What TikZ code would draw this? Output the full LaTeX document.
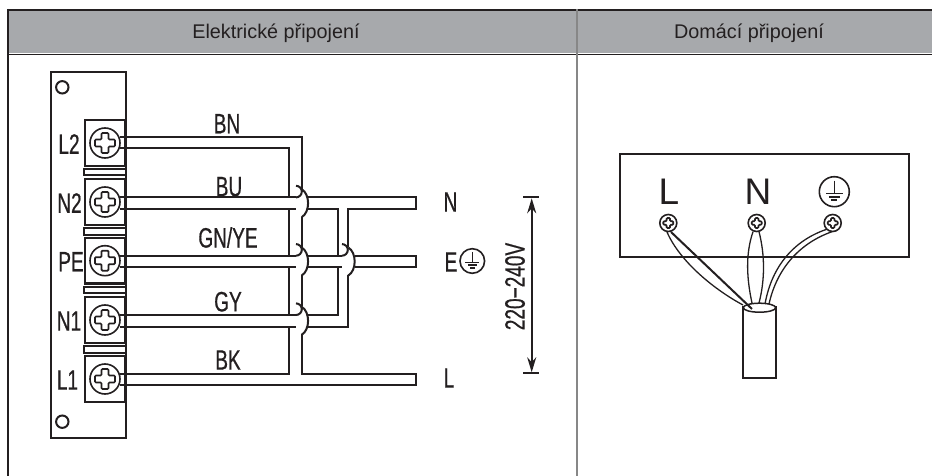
\documentclass[tikz,border=0pt]{standalone}
\usepackage{fontspec}
\usepackage{xcolor}
\usetikzlibrary{arrows.meta}
\setmainfont{Liberation Sans}
\newfontfamily\wirefont[FakeStretch=0.68,FakeBold=0.6]{Liberation Sans}
\definecolor{wireblack}{RGB}{35, 31, 32}
\definecolor{headgray}{RGB}{167, 169, 172}
\definecolor{rulegray}{RGB}{135, 135, 135}
\tikzset{
    wire/.style={line width=2pt, wireblack, line join=miter},
    thinwire/.style={line width=1.3pt, wireblack},
    headtext/.style={font=\fontsize{19.8}{22}\selectfont, text=wireblack, inner sep=0pt},
    wirelabel/.style={font=\wirefont\fontsize{28}{30}\selectfont, text=wireblack, inner sep=0pt},
    panellabel/.style={font=\fontsize{37}{40}\selectfont, text=wireblack, inner sep=0pt},
    screwhead/.style={draw=wireblack, circle, line width=1.6pt, inner sep=0pt},
    screwcross/.pic={
        \draw[line width=1.7pt, wireblack, rounded corners=1pt] (-10,-3.5) -- (-3.5,-3.5) -- (-3.5,-10) -- (3.5,-10) -- (3.5,-3.5) -- (10,-3.5) -- (10,3.5) -- (3.5,3.5) -- (3.5,10) -- (-3.5,10) -- (-3.5,3.5) -- (-10,3.5) -- cycle;
    },
    earthmark/.pic={
        \draw[line width=1.6pt, wireblack] (0,0) circle (15);
        \draw[line width=1.5pt, wireblack] (0,-11) -- (0,1.7);
        \draw[line width=1.7pt, wireblack] (-8.3,1.7) -- (8.3,1.7);
        \draw[line width=1.7pt, wireblack] (-5.5,5) -- (5.5,5);
        \draw[line width=1.7pt, wireblack] (-3,8.3) -- (3,8.3);
    }
}
\newcommand{\wirebump}[2]{\draw[wire] (#1,#2-14) .. controls (#1+8.5,#2-9) and (#1+8.5,#2+9) .. (#1,#2+14);}
\newcommand{\wirecap}[2]{\draw[wire] (#1,#2-5.8) arc[start angle=90, end angle=-90, radius=5.8];}

\begin{document}
\begin{tikzpicture}[x=1pt, y=-1pt]
    \useasboundingbox (0,0) rectangle (932,476);

    \fill[headgray] (8,10) rectangle (932,53);
    \draw[line width=1.2pt, wireblack] (7,10) -- (932,10);
    \draw[line width=1.2pt, wireblack] (7,54.5) -- (932,54.5);
    \draw[line width=1.1pt, wireblack] (8,9) -- (8,476);
    \draw[line width=1.1pt, rulegray] (577,9) -- (577,476);
    \node[headtext] (elhead) at (276,33) {Elektrické připojení};
    \node[headtext] (dohead) at (749,33) {Domácí připojení};

    \draw[wire] (50.5,72) rectangle (125.5,437.5);
    \draw[wire] (62.3,87.3) circle (6.2);
    \draw[wire] (62.3,421.7) circle (6.2);

    \foreach \ty/\tname/\tx in {143/L2/69, 202/N2/69.5, 260.7/PE/71, 320/N1/69, 379/L1/67.5} {
        \draw[wire] (85,\ty-23) rectangle (125.5,\ty+23);
        \draw[line width=3pt, wireblack] (125.5,\ty-23) -- (125.5,\ty+23);
        \node[screwhead, minimum size=30pt] (screw\tname) at (105,\ty) {};
        \pic at (105,\ty) {screwcross};
        \node[wirelabel] (term\tname) at (\tx,\ty+1) {\tname};
    }
    \foreach \ty in {143, 202, 260.7, 320} {
        \draw[line width=2.8pt, wireblack] (85,\ty+23) -- (125.5,\ty+23);
        \draw[wire] (125.5,\ty+26) -- (83.5,\ty+26) -- (83.5,\ty+32.5) -- (125.5,\ty+32.5);
    }

    \draw[wire] (120,137.3) -- (301.7,137.3) -- (301.7,189);
    \draw[wire] (120,148.3) -- (289.3,148.3) -- (289.3,197.3);
    \draw[wire] (289.3,209) -- (289.3,255.7);
    \draw[wire] (289.3,267.3) -- (289.3,315);
    \draw[wire] (120,374.3) -- (289.3,374.3) -- (289.3,326.7);
    \draw[wire] (301.7,217) -- (301.7,247);
    \draw[wire] (301.7,275) -- (301.7,306);
    \draw[wire] (301.7,334) -- (301.7,374.3) -- (416,374.3) -- (416,385) -- (120,385);

    \foreach \wy in {203.2, 261.5, 320.8} {
        \wirebump{301.7}{\wy}
        \draw[wire] (120,\wy-5.8) -- (296,\wy-5.8);
        \draw[wire] (120,\wy+5.8) -- (296,\wy+5.8);
        \wirecap{296}{\wy}
    }

    \draw[wire] (308,197.4) -- (416,197.4) -- (416,209) -- (348.3,209) -- (348.3,247);
    \draw[wire] (308,209) -- (337.7,209) -- (337.7,255.7);
    \draw[wire] (337.7,267.3) -- (337.7,315) -- (308,315);
    \draw[wire] (348.3,275) -- (348.3,326.6) -- (308,326.6);
    \draw[wire] (308,255.7) -- (342,255.7);
    \draw[wire] (308,267.3) -- (342,267.3);
    \wirecap{342}{261.5}
    \wirebump{348.3}{261.5}
    \draw[wire] (355,255.7) -- (416,255.7) -- (416,267.3) -- (355,267.3);

    \node[wirelabel] (bn) at (227,123.7) {BN};
    \node[wirelabel] (bu) at (229,186.7) {BU};
    \node[wirelabel] (gnye) at (228,237.5) {GN/YE};
    \node[wirelabel] (gy) at (228,301.7) {GY};
    \node[wirelabel] (bk) at (228,360) {BK};
    \node[wirelabel] (nout) at (450.5,202) {N};
    \node[wirelabel] (eout) at (451,262) {E};
    \node[wirelabel] (lout) at (449,378) {L};
    \pic[scale=0.82] at (472.3,261) {earthmark};

    \coordinate (vtop) at (531.7,197.3);
    \coordinate (vbot) at (531.7,373.3);
    \draw[wire] (523,197.3) -- (539,197.3);
    \draw[wire] (523,373.3) -- (539,373.3);
    \draw[{Stealth[length=15pt, width=9pt]}-{Stealth[length=15pt, width=9pt]}, wire, shorten <=1pt, shorten >=1pt] (vtop) -- (vbot);
    \node[wirelabel, rotate=90] (volt) at (515,286.5) {220−240V};

    \draw[line width=1.9pt, wireblack] (620,154) rectangle (909,256.7);
    \node[panellabel] (pl) at (669,191.7) {L};
    \node[panellabel] (pn) at (758,191.7) {N};
    \pic at (834.3,191.7) {earthmark};
    \foreach \sx/\sname in {668.3/a, 756.7/b, 832.7/c} {
        \node[screwhead, minimum size=17pt] (pscrew\sname) at (\sx,223) {};
        \pic[scale=0.5] at (\sx,223) {screwcross};
    }

    \draw[line width=1.7pt, wireblack] (743.3,305.7) -- (743.3,377.7) -- (775.7,377.7) -- (775.7,305.7);
    \draw[line width=1.5pt, wireblack] (759.5,307.7) ellipse (16.2 and 4.5);

    \draw[line width=2pt, wireblack] (671,232) -- (752,309);
    \draw[thinwire] (667,232) .. controls (680,262) and (715,290) .. (743,305);
    \draw[thinwire] (753,231.7) .. controls (745,255) and (747,280) .. (752,303);
    \draw[thinwire] (759,231.7) .. controls (765,255) and (765,280) .. (759,303);
    \draw[thinwire] (826.7,229.3) .. controls (795,240) and (772,265) .. (765,304);
    \draw[thinwire] (832,231.7) .. controls (800,243) and (777,268) .. (769,304);
\end{tikzpicture}
\end{document}
